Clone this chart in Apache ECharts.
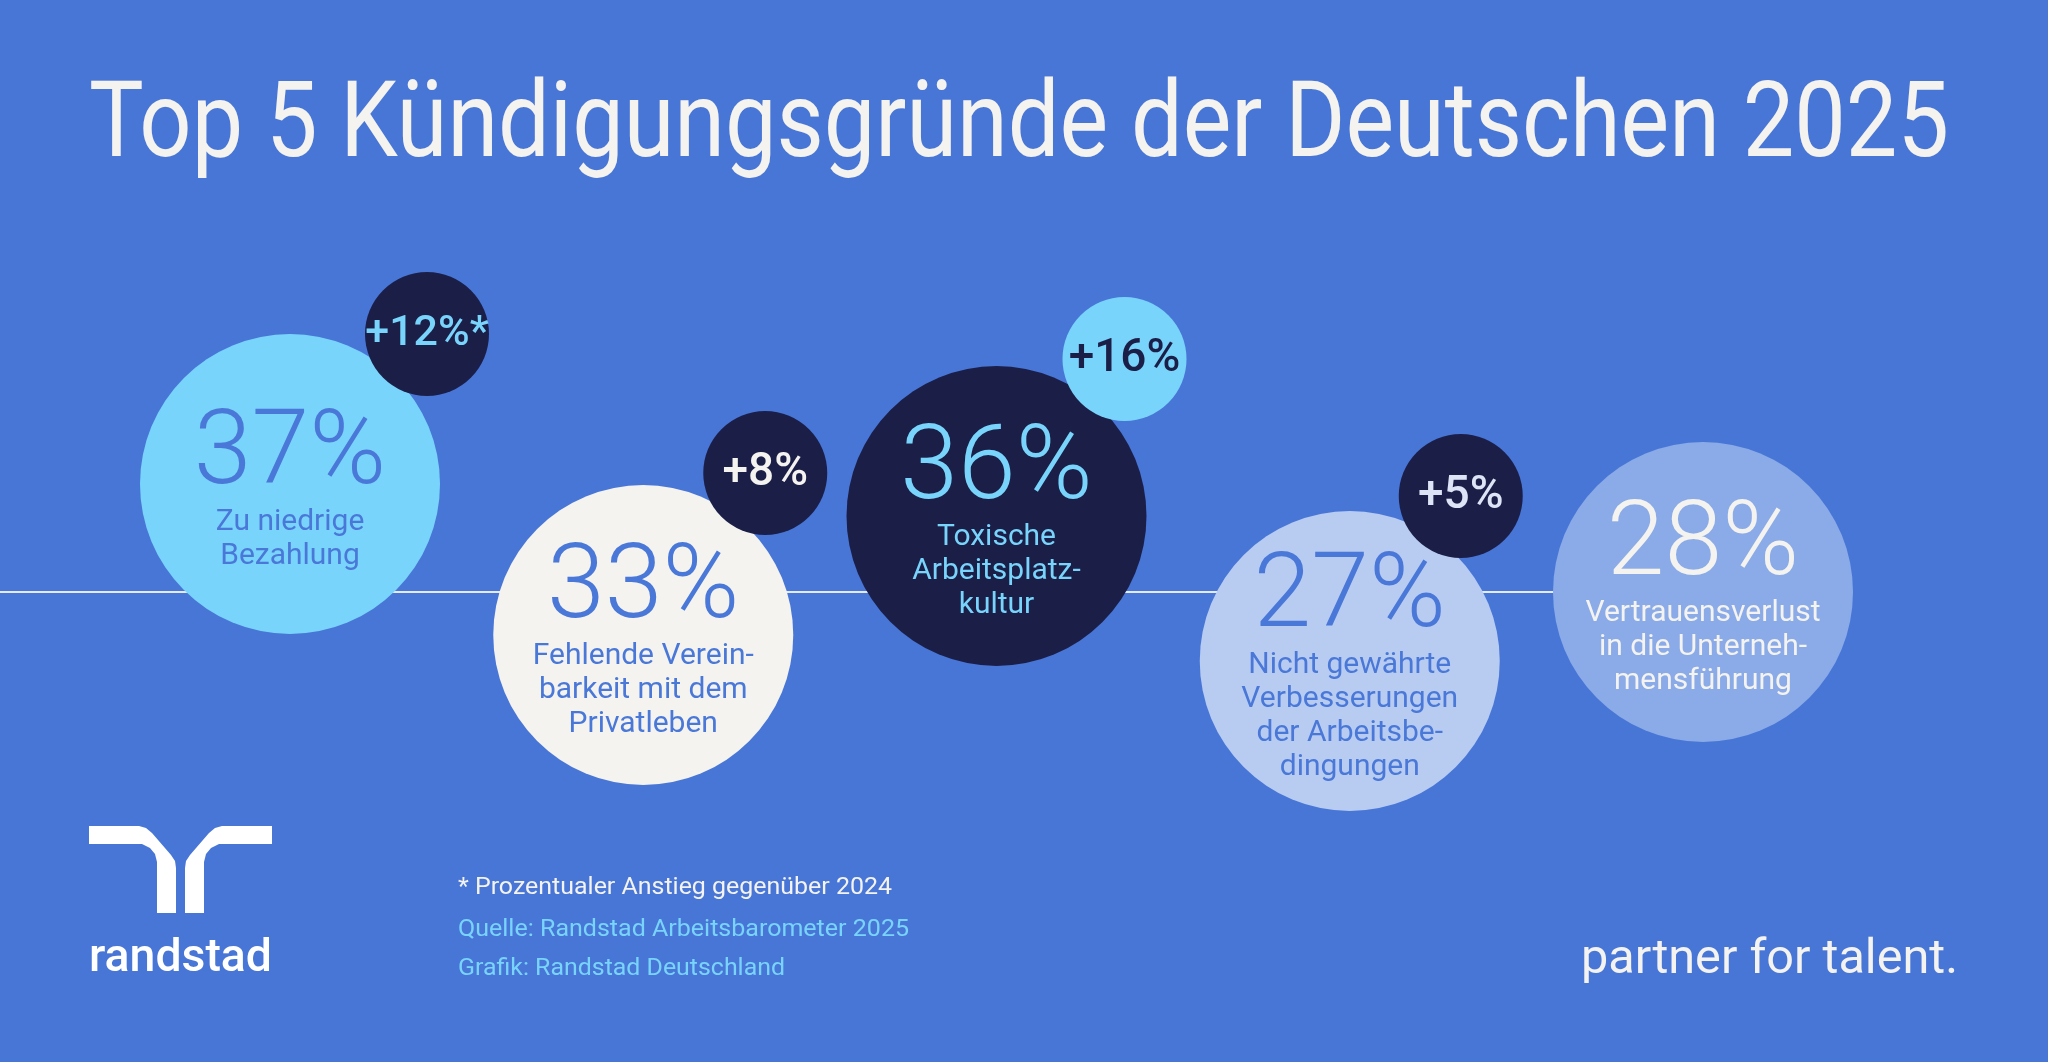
<!DOCTYPE html>
<html>
<head>
<meta charset="utf-8">
<script src="https://cdn.jsdelivr.net/npm/echarts@6/dist/echarts.min.js"></script>
<style>
html,body{margin:0;padding:0;background:#4876D7;}
#c{width:2048px;height:1062px;}
</style>
</head>
<body>
<div id="c"></div>
<script>
// ---------- DATA ----------
const titleText = 'Top 5 Kündigungsgründe der Deutschen 2025';
const categories = [
  'Zu niedrige\nBezahlung',
  'Fehlende Verein-\nbarkeit mit dem\nPrivatleben',
  'Toxische\nArbeitsplatz-\nkultur',
  'Nicht gewährte\nVerbesserungen\nder Arbeitsbe-\ndingungen',
  'Vertrauensverlust\nin die Unterneh-\nmensführung'
];
const shares = [37, 33, 36, 27, 28];          // % of respondents
const growth = [12, 8, 16, 5, null];          // increase vs. 2024 (%)
const growthNote = ['*', '', '', '', ''];
const footnotes = [
  '* Prozentualer Anstieg gegenüber 2024',
  'Quelle: Randstad Arbeitsbarometer 2025',
  'Grafik: Randstad Deutschland'
];
const brandName = 'randstad';
const slogan = 'partner for talent.';

// ---------- LAYOUT / STYLE (not data) ----------
const bubbleLift = [108, -43, 76, -69, 0];       // vertical stagger around the baseline
const badgeOffset = [[137, -150], [122, -162], [128, -157], [111, -165], null];
const bubbleFill = ['#79D4FC', '#F4F3EF', '#1B1F48', '#B8CCF1', '#8AABE7'];
const bubbleInk  = ['#4A78D8', '#4A78D8', '#79D4FC', '#4A78D8', '#F4F3EF'];
const badgeFill  = ['#1B1F48', '#1B1F48', '#79D4FC', '#1B1F48', null];
const badgeInk   = ['#79D4FC', '#F4F3EF', '#1B1F48', '#DCE4F6', null];
const badgeFont  = [43, 46, 46, 46, null];
const BG = '#4876D7';
const WHITE = '#F4F3EF';
const CYAN = '#79D4FC';
const FONT = 'Roboto, "Noto Sans", sans-serif';

function fitScale(text, weight, size, target) {
  const ctx = document.createElement('canvas').getContext('2d');
  ctx.font = weight + ' ' + size + 'px Roboto';
  return target / ctx.measureText(text).width;
}

const chart = echarts.init(document.getElementById('c'), null, {renderer: 'canvas', width: 2048, height: 1062});

const bubbleData = shares.map((v, i) => ({
  value: [i, bubbleLift[i]],
  itemStyle: {color: bubbleFill[i], opacity: 1},
  label: {
    rich: {
      num: {fontSize: 104, lineHeight: 97, color: bubbleInk[i], fontFamily: FONT, fontWeight: 300, align: 'center'},
      lab: {fontSize: 30, lineHeight: 34, color: bubbleInk[i], fontFamily: FONT, fontWeight: 400, align: 'center'}
    }
  }
}));

const badgeData = [];
growth.forEach((g, i) => {
  if (g == null) return;
  badgeData.push({
    value: [i, bubbleLift[i]],
    idx: i,
    symbolOffset: badgeOffset[i],
    itemStyle: {color: badgeFill[i], opacity: 1},
    label: {color: badgeInk[i], fontSize: badgeFont[i]}
  });
});

chart.setOption({
  backgroundColor: BG,
  animation: false,
  grid: {left: 290, right: 345, top: 292, height: 600},
  xAxis: {type: 'category', data: categories, boundaryGap: false, show: false},
  yAxis: {type: 'value', min: -300, max: 300, show: false},
  series: [
    {
      type: 'scatter',
      name: 'Anteil',
      symbol: 'circle',
      symbolSize: 300,
      clip: false,
      silent: true,
      z: 2,
      itemStyle: {opacity: 1},
      data: bubbleData,
      label: {
        show: true,
        position: 'inside',
        offset: [0, 7],
        align: 'center',
        verticalAlign: 'middle',
        formatter: p => {
          const i = p.dataIndex;
          return '{num|' + shares[i] + '%}\n' + categories[i].split('\n').map(s => '{lab|' + s + '}').join('\n');
        }
      },
      emphasis: {disabled: true}
    },
    {
      type: 'scatter',
      name: 'Anstieg',
      symbol: 'circle',
      symbolSize: 124,
      clip: false,
      silent: true,
      z: 3,
      itemStyle: {opacity: 1},
      data: badgeData,
      label: {
        show: true,
        position: 'inside',
        fontSize: 46,
        fontWeight: 500,
        fontFamily: FONT,
        formatter: p => '+' + growth[p.data.idx] + '%' + growthNote[p.data.idx]
      },
      emphasis: {disabled: true}
    }
  ]
});

// baseline through the bubbles, positioned from the axes
const p0 = chart.convertToPixel({seriesIndex: 0}, [categories.length - 1, 0]);

const titleScale = fitScale(titleText, 400, 105, 1860);
const brandScale = fitScale(brandName, 500, 47, 183);
const sloganScale = fitScale(slogan, 400, 49, 377);
const noteScale = [
  fitScale(footnotes[0], 400, 23, 434),
  fitScale(footnotes[1], 400, 23, 451),
  fitScale(footnotes[2], 400, 23, 327)
];

function mirror(pts) { return pts.map(p => [361 - p[0], p[1]]); }
const logoLeft = [[89,826],[139,826],[146,828],[152,833],[171,855],[175,861],[176,868],[176,913],[157,913],[157,862],[155,854],[150,848],[142,844],[89,844]];

chart.setOption({
  graphic: [
    {type: 'line', z: 0, silent: true, shape: {x1: 0, y1: p0[1], x2: p0[0], y2: p0[1]}, style: {stroke: '#E4EAF8', lineWidth: 2}},
    {type: 'text', x: 89, y: 130, scaleX: titleScale, silent: true,
      style: {text: titleText, fontSize: 105, fontWeight: 400, fontFamily: FONT, fill: WHITE, align: 'left', verticalAlign: 'middle'}},
    {type: 'polygon', silent: true, shape: {points: logoLeft}, style: {fill: '#FFFFFF'}},
    {type: 'polygon', silent: true, shape: {points: mirror(logoLeft)}, style: {fill: '#FFFFFF'}},
    {type: 'text', x: 89, y: 959, scaleX: brandScale, silent: true,
      style: {text: brandName, fontSize: 47, fontWeight: 500, fontFamily: FONT, fill: '#FFFFFF', align: 'left', verticalAlign: 'middle'}},
    {type: 'text', x: 458, y: 888, scaleX: noteScale[0], silent: true,
      style: {text: footnotes[0], fontSize: 23, fontFamily: FONT, fill: WHITE, align: 'left', verticalAlign: 'middle'}},
    {type: 'text', x: 458, y: 930, scaleX: noteScale[1], silent: true,
      style: {text: footnotes[1], fontSize: 23, fontFamily: FONT, fill: CYAN, align: 'left', verticalAlign: 'middle'}},
    {type: 'text', x: 458, y: 969, scaleX: noteScale[2], silent: true,
      style: {text: footnotes[2], fontSize: 23, fontFamily: FONT, fill: CYAN, align: 'left', verticalAlign: 'middle'}},
    {type: 'text', x: 1581, y: 961, scaleX: sloganScale, silent: true,
      style: {text: slogan, fontSize: 49, fontWeight: 400, fontFamily: FONT, fill: WHITE, align: 'left', verticalAlign: 'middle'}}
  ]
});
</script>
</body>
</html>
